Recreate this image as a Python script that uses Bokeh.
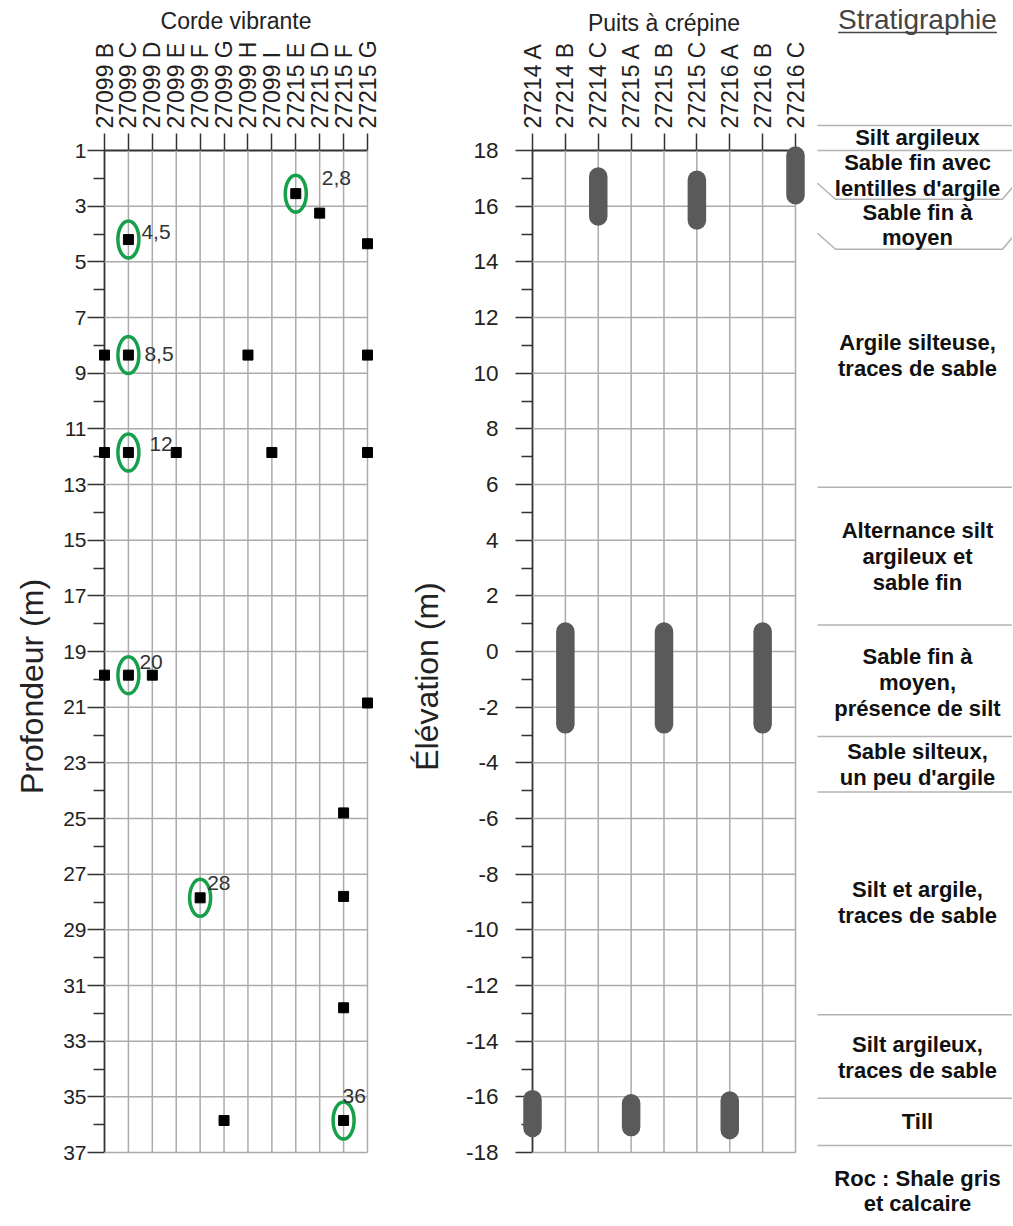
import math
from bokeh.plotting import figure
from bokeh.layouts import row
from bokeh.models import Range1d, FixedTicker
from bokeh.core.properties import value
from bokeh.embed import file_html
from bokeh.resources import INLINE

FONT = "Liberation Sans"

# ---------------- data ----------------
# Vibrating-wire piezometers (depth, m)
vw_wells = ["27099 B", "27099 C", "27099 D", "27099 E", "27099 F", "27099 G",
            "27099 H", "27099 I", "27215 E", "27215 D", "27215 F", "27215 G"]
vw_sensor_well = ["27099 B", "27099 B", "27099 B",
                  "27099 C", "27099 C", "27099 C", "27099 C",
                  "27099 D", "27099 E", "27099 F", "27099 G", "27099 H", "27099 I",
                  "27215 E", "27215 D",
                  "27215 F", "27215 F", "27215 F", "27215 F",
                  "27215 G", "27215 G", "27215 G", "27215 G"]
vw_sensor_depth = [8.35, 11.85, 19.85,
                   4.2, 8.35, 11.85, 19.85,
                   19.85, 11.85, 27.85, 35.85, 8.35, 11.85,
                   2.55, 3.25,
                   24.8, 27.8, 31.8, 35.85,
                   4.35, 8.35, 11.85, 20.85]
circled_well = ["27215 E", "27099 C", "27099 C", "27099 C", "27099 C", "27099 F", "27215 F"]
circled_depth = [2.55, 4.2, 8.35, 11.85, 19.85, 27.85, 35.85]
circled_text = ["2,8", "4,5", "8,5", "12", "20", "28", "36"]
depth_ticks = list(range(1, 38, 2))
depth_minor = list(range(2, 37, 2))

# Screened wells (elevation, m)
screen_wells = ["27214 A", "27214 B", "27214 C", "27215 A", "27215 B", "27215 C",
                "27216 A", "27216 B", "27216 C"]
screen_top = [-15.75, 1.05, 17.4, -15.9, 1.05, 17.28, -15.8, 1.05, 18.15]
screen_bottom = [-17.45, -2.95, 15.3, -17.42, -2.95, 15.15, -17.52, -2.95, 16.06]
elev_ticks = list(range(18, -19, -2))
elev_minor = list(range(17, -18, -2))

# Stratigraphy (elevation, m)
strata_bounds = [18.9, 18.0, 16.25, 14.45, 5.9, 0.95, -3.05, -5.05, -13.05, -16.05, -17.75]
strata_bent = [False, False, True, True, False, False, False, False, False, False, False]
strata_names = ["Silt argileux",
                "Sable fin avec\nlentilles d'argile",
                "Sable fin à\nmoyen",
                "Argile silteuse,\ntraces de sable",
                "Alternance silt\nargileux et\nsable fin",
                "Sable fin à\nmoyen,\nprésence de silt",
                "Sable silteux,\nun peu d'argile",
                "Silt et argile,\ntraces de sable",
                "Silt argileux,\ntraces de sable",
                "Till",
                "Roc : Shale gris\net calcaire"]
strata_label_elev = [18.45, 17.1, 15.32, 10.63, 3.41, -1.11, -4.06, -9.02, -14.59, -16.89, -19.38]

# ---------------- layout constants (pixels) ----------------
FRAME_H = 1002
TOP_B = 150
BOT_B = 70
P1_LEFT, P1_FW, P1_RIGHT = 104, 263, 20
P2_LEFT, P2_FW, P2_RIGHT = 145, 263, 17
P3_FW = 200

AXIS_C = "#333333"
GRID_C = "#ababab"
TXT_C = "#222222"
OV = "overlay"   # draw marks above guides and without frame clipping


def base_fig(fw, left, right, xr, yr):
    p = figure(frame_width=fw, frame_height=FRAME_H, x_range=xr, y_range=yr,
               x_axis_location="above", y_axis_location="left",
               toolbar_location=None, output_backend="svg")
    p.min_border_left = left
    p.min_border_right = right
    p.min_border_top = TOP_B
    p.min_border_bottom = BOT_B
    p.outline_line_color = None
    p.grid.visible = False
    p.background_fill_color = "white"
    p.border_fill_color = "white"
    return p


def style_axes(yaxis, xaxis, ytick_size, ystand, xlabel):
    for ax in (yaxis, xaxis):
        ax.axis_line_color = AXIS_C
        ax.axis_line_width = 1.8
        ax.major_tick_line_color = AXIS_C
        ax.major_tick_line_width = 1.5
        ax.minor_tick_line_color = AXIS_C
        ax.minor_tick_line_width = 1.5
        ax.major_tick_in = 0
        ax.major_tick_out = 17
        ax.minor_tick_in = 0
        ax.minor_tick_out = 11
        ax.major_label_text_font = FONT
        ax.major_label_text_color = TXT_C
        ax.axis_label_text_font = FONT
        ax.axis_label_text_font_style = "normal"
        ax.axis_label_text_color = TXT_C
    yaxis.major_label_text_font_size = ytick_size
    yaxis.major_label_standoff = ystand
    xaxis.major_label_text_font_size = "23px"
    xaxis.major_label_orientation = "vertical"
    xaxis.major_label_standoff = 5
    xaxis.axis_label = xlabel
    xaxis.axis_label_text_font_size = "23px"
    xaxis.axis_label_standoff = 3


# ---------------- panel 1 : Corde vibrante ----------------
nv = len(vw_wells)
p1 = base_fig(P1_FW, P1_LEFT, P1_RIGHT,
              Range1d(0, nv - 1), Range1d(depth_ticks[-1], depth_ticks[0]))
step1 = P1_FW / (nv - 1)
ppm1 = FRAME_H / (depth_ticks[-1] - depth_ticks[0])
vw_idx = {w: i for i, w in enumerate(vw_wells)}

p1.segment(x0=list(range(1, nv)), y0=[depth_ticks[0]] * (nv - 1),
           x1=list(range(1, nv)), y1=[depth_ticks[-1]] * (nv - 1),
           line_color=GRID_C, line_width=1.5, level=OV)
p1.segment(x0=[0] * (len(depth_ticks) - 1), y0=depth_ticks[1:],
           x1=[nv - 1] * (len(depth_ticks) - 1), y1=depth_ticks[1:],
           line_color=GRID_C, line_width=1.5, level=OV)

p1.scatter(x=[vw_idx[w] for w in vw_sensor_well], y=vw_sensor_depth,
           marker="square", size=10, fill_color="black", line_color="black", level=OV)
cx = [vw_idx[w] for w in circled_well]
p1.ellipse(x=cx, y=circled_depth, width=21, height=37,
           width_units="screen", height_units="screen",
           fill_color=None, line_color="#17a04b", line_width=3.5, level=OV)
# label anchor offsets (pixels), placement only
lab_dx = [26, 13, 16, 21, 11, 7, -1]
lab_dy = [-16, -8, -1, -8, -13, -15, -24]
p1.text(x=cx, y=circled_depth, text=circled_text, x_offset=lab_dx, y_offset=lab_dy,
        text_font=value(FONT), text_font_size="21px", text_color="#333333",
        text_align="left", text_baseline="alphabetic", level=OV)

y1ax = p1.yaxis[0]
x1ax = p1.xaxis[0]
y1ax.ticker = FixedTicker(ticks=depth_ticks, minor_ticks=depth_minor)
y1ax.major_label_overrides = {t: str(t) for t in depth_ticks}
x1ax.ticker = FixedTicker(ticks=list(range(nv)), minor_ticks=[])
x1ax.major_label_overrides = {i: w for i, w in enumerate(vw_wells)}
style_axes(y1ax, x1ax, "21px", 1, "Corde vibrante")

# y title (placed like the original, below the axis centre)
p1.text(x=[(31 - P1_LEFT) / step1], y=[depth_ticks[0] + (686 - TOP_B) / ppm1],
        text=["Profondeur (m)"], angle=math.pi / 2,
        text_font=value(FONT), text_font_size="32px", text_color=TXT_C,
        text_align="center", text_baseline="middle", level=OV)

# ---------------- panel 2 : Puits à crépine ----------------
ns = len(screen_wells)
p2 = base_fig(P2_FW, P2_LEFT, P2_RIGHT,
              Range1d(0, ns - 1), Range1d(elev_ticks[-1], elev_ticks[0]))
step2 = P2_FW / (ns - 1)
ppm2 = FRAME_H / (elev_ticks[0] - elev_ticks[-1])

p2.segment(x0=list(range(1, ns)), y0=[elev_ticks[0]] * (ns - 1),
           x1=list(range(1, ns)), y1=[elev_ticks[-1]] * (ns - 1),
           line_color=GRID_C, line_width=1.5, level=OV)
p2.segment(x0=[0] * (len(elev_ticks) - 1), y0=elev_ticks[1:],
           x1=[ns - 1] * (len(elev_ticks) - 1), y1=elev_ticks[1:],
           line_color=GRID_C, line_width=1.5, level=OV)

SCREEN_W = 18.5
cap = SCREEN_W / 2 / ppm2
p2.segment(x0=list(range(ns)), y0=[t - cap for t in screen_top],
           x1=list(range(ns)), y1=[b + cap for b in screen_bottom],
           line_color="#5a5a5a", line_width=SCREEN_W, line_cap="round", level=OV)

y2ax = p2.yaxis[0]
x2ax = p2.xaxis[0]
y2ax.ticker = FixedTicker(ticks=elev_ticks, minor_ticks=elev_minor)
y2ax.major_label_overrides = {t: str(t) for t in elev_ticks}
x2ax.ticker = FixedTicker(ticks=list(range(ns)), minor_ticks=[])
x2ax.major_label_overrides = {i: w for i, w in enumerate(screen_wells)}
style_axes(y2ax, x2ax, "22.5px", 17, "Puits à crépine")

p2.text(x=[(426 - (P1_LEFT + P1_FW + P1_RIGHT + P2_LEFT)) / step2],
        y=[elev_ticks[0] - (676 - TOP_B) / ppm2],
        text=["Élévation (m)"], angle=math.pi / 2,
        text_font=value(FONT), text_font_size="32px", text_color=TXT_C,
        text_align="center", text_baseline="middle", level=OV)

# ---------------- panel 3 : Stratigraphie ----------------
p3 = figure(frame_width=P3_FW, frame_height=FRAME_H, x_range=Range1d(0, 1),
            y_range=Range1d(elev_ticks[-1], elev_ticks[0]),
            x_axis_location=None, y_axis_location=None,
            toolbar_location=None, output_backend="svg")
p3.min_border_left = 0
p3.min_border_right = 0
p3.min_border_top = TOP_B
p3.min_border_bottom = BOT_B
p3.outline_line_color = None
p3.grid.visible = False
p3.background_fill_color = "white"
p3.border_fill_color = "white"

XL = 5.0 / P3_FW
SL = 18.0 / P3_FW
SR = 10.0 / P3_FW
BEND = 16.0 / ppm2
xs, ys = [], []
for b, bent in zip(strata_bounds, strata_bent):
    if bent:
        xs.append([XL, XL + SL, 1 - SR, 1.0])
        ys.append([b + BEND, b, b, b + BEND * 0.75])
    else:
        xs.append([XL, 1.0])
        ys.append([b, b])
p3.multi_line(xs=xs, ys=ys, line_color="#b3b3b3", line_width=1.5, level=OV)

TX = 105.0 / P3_FW
p3.text(x=[TX] * len(strata_names), y=strata_label_elev, text=strata_names,
        text_font=value(FONT), text_font_size="22px", text_font_style="bold",
        text_color="#111111", text_align="center", text_baseline="middle",
        text_line_height=1.03, level=OV)

title_elev = elev_ticks[0] + (TOP_B - 19) / ppm2
ul_elev = elev_ticks[0] + (TOP_B - 32) / ppm2
p3.text(x=[TX], y=[title_elev], text=["Stratigraphie"],
        text_font=value(FONT), text_font_size="28px", text_color="#444444",
        text_align="center", text_baseline="middle", level=OV)
half = 5.669 * 28 / 2 / P3_FW
p3.segment(x0=[TX - half], y0=[ul_elev], x1=[TX + half], y1=[ul_elev],
           line_color="#444444", line_width=1.5, level=OV)

layout = row(p1, p2, p3)
open("out.html", "w").write(file_html(layout, INLINE))
